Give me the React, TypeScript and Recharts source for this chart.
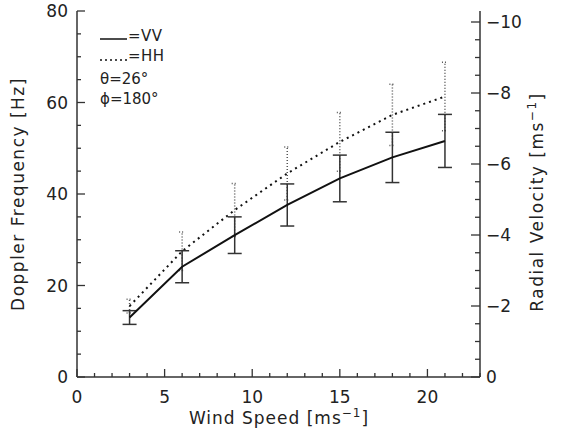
import React from 'react';
import { ComposedChart, Line, XAxis, YAxis, ErrorBar } from 'recharts';

// wind speed [m/s]
const windSpeed = [3, 6, 9, 12, 15, 18, 21];
// VV Doppler frequency [Hz] and its error bar
const vvDoppler = [13.0, 24.1, 31.0, 37.6, 43.4, 48.0, 51.6];
const vvError = [1.5, 3.5, 4.0, 4.6, 5.1, 5.5, 5.8];
// HH Doppler frequency [Hz] and its error bar
const hhDoppler = [15.5, 27.5, 36.5, 44.5, 51.4, 57.3, 61.3];
const hhError = [1.5, 4.2, 5.8, 5.8, 6.4, 6.7, 7.5];

const xTicks = [0, 1, 2, 3, 4, 5, 6, 7, 8, 9, 10, 11, 12, 13, 14, 15, 16, 17, 18, 19, 20, 21, 22, 23];
const xMajor = [0, 5, 10, 15, 20];
const leftTicks = [0, 5, 10, 15, 20, 25, 30, 35, 40, 45, 50, 55, 60, 65, 70, 75, 80];
const leftMajor = [0, 20, 40, 60, 80];
const rightTicks = [0, -0.5, -1, -1.5, -2, -2.5, -3, -3.5, -4, -4.5, -5, -5.5, -6, -6.5, -7, -7.5, -8, -8.5, -9, -9.5, -10];
const rightMajor = [0, -2, -4, -6, -8, -10];

const data = windSpeed.map((w, i) => ({
  w,
  vv: vvDoppler[i],
  vvErr: vvError[i],
  hh: hhDoppler[i],
  hhErr: hhError[i],
}));

const FONT = '"DejaVu Sans", sans-serif';
const AXIS = '#333';
const TEXT = '#222';

// ticks point inward (IDL style); tickSize/tickMargin are 0 so x,y sit on the axis line
const BottomTick = (props: any) => {
  const { x, y, payload } = props;
  const major = xMajor.includes(payload.value);
  return (
    <g>
      <path d={`M${x},${y}V${y - (major ? 8 : 4)}`} stroke={AXIS} strokeWidth={1.3} fill="none" />
      {major && (
        <text x={x} y={y + 26} textAnchor="middle" fontFamily={FONT} fontSize={17} fill={TEXT}>
          {payload.value}
        </text>
      )}
    </g>
  );
};

const TopTick = (props: any) => {
  const { x, y, payload } = props;
  const major = xMajor.includes(payload.value);
  return <path d={`M${x},${y}V${y + (major ? 8 : 4)}`} stroke={AXIS} strokeWidth={1.3} fill="none" />;
};

const LeftTick = (props: any) => {
  const { x, y, payload } = props;
  const major = leftMajor.includes(payload.value);
  return (
    <g>
      <path d={`M${x},${y}H${x + (major ? 8 : 4)}`} stroke={AXIS} strokeWidth={1.3} fill="none" />
      {major && (
        <text x={x - 9} y={y + 6} textAnchor="end" fontFamily={FONT} fontSize={17} fill={TEXT}>
          {payload.value}
        </text>
      )}
    </g>
  );
};

const RightTick = (props: any) => {
  const { x, y, payload } = props;
  const major = rightMajor.includes(payload.value);
  const v = payload.value;
  return (
    <g>
      <path d={`M${x},${y}H${x - (major ? 9 : 5)}`} stroke={AXIS} strokeWidth={1.3} fill="none" />
      {major && (
        <text x={x + 6} y={y + 6} textAnchor="start" fontFamily={FONT} fontSize={17} fill={TEXT}>
          {v === 0 ? '0' : `\u2212${Math.abs(v)}`}
        </text>
      )}
    </g>
  );
};

export default function App() {
  return (
    <div style={{ position: 'absolute', left: 0, top: 0, width: 562, height: 434, background: '#fff' }}>
      <ComposedChart width={562} height={434} data={data} margin={{ top: 11, right: 0, bottom: 0, left: 0 }}>
        <XAxis
          xAxisId="b"
          dataKey="w"
          type="number"
          domain={[0, 23]}
          ticks={xTicks}
          interval={0}
          height={57}
          tickSize={0}
          tickMargin={0}
          tickLine={false}
          tick={BottomTick}
          axisLine={{ stroke: AXIS, strokeWidth: 1.5 }}
        />
        <XAxis
          xAxisId="t"
          orientation="top"
          dataKey="w"
          type="number"
          domain={[0, 23]}
          ticks={xTicks}
          interval={0}
          height={0}
          tickSize={0}
          tickMargin={0}
          tickLine={false}
          tick={TopTick}
          axisLine={{ stroke: AXIS, strokeWidth: 1.5 }}
        />
        <YAxis
          yAxisId="l"
          type="number"
          domain={[0, 80]}
          ticks={leftTicks}
          interval={0}
          width={77}
          tickSize={0}
          tickMargin={0}
          tickLine={false}
          tick={LeftTick}
          axisLine={{ stroke: AXIS, strokeWidth: 1.5 }}
        />
        <YAxis
          yAxisId="r"
          orientation="right"
          type="number"
          domain={[-10.31, 0]}
          reversed
          allowDataOverflow
          ticks={rightTicks}
          interval={0}
          width={82}
          tickSize={0}
          tickMargin={0}
          tickLine={false}
          tick={RightTick}
          axisLine={{ stroke: AXIS, strokeWidth: 1.5 }}
        />
        <Line
          xAxisId="b"
          yAxisId="l"
          dataKey="hh"
          stroke="#111"
          strokeWidth={2}
          strokeDasharray="2 4"
          dot={false}
          isAnimationActive={false}
        >
          <ErrorBar dataKey="hhErr" direction="y" width={3} stroke="#555" strokeWidth={1.5} strokeDasharray="1 2" />
        </Line>
        <Line
          xAxisId="b"
          yAxisId="l"
          dataKey="vv"
          stroke="#111"
          strokeWidth={2}
          dot={false}
          isAnimationActive={false}
        >
          <ErrorBar dataKey="vvErr" direction="y" width={7} stroke="#333" strokeWidth={1.5} />
        </Line>
      </ComposedChart>
      <svg
        width={562}
        height={434}
        style={{ position: 'absolute', left: 0, top: 0, pointerEvents: 'none' }}
        fontFamily={FONT}
        fill={TEXT}
      >
        {/* legend */}
        <line x1={100} x2={127} y1={39} y2={39} stroke="#111" strokeWidth={1.5} />
        <text x={128} y={41} fontSize={15} letterSpacing={0.5}>=VV</text>
        <line x1={100} x2={127} y1={60} y2={60} stroke="#111" strokeWidth={1.5} strokeDasharray="2 3" />
        <text x={128} y={61} fontSize={15} letterSpacing={0.5}>=HH</text>
        <text x={100} y={84} fontSize={15}>θ=26°</text>
        <text x={100} y={104} fontSize={15}>ϕ=180°</text>
        {/* axis titles */}
        <text x={279} y={424} textAnchor="middle" fontSize={17} letterSpacing={1}>
          Wind Speed [ms<tspan dy={-7} fontSize={12}>−1</tspan><tspan dy={7}>]</tspan>
        </text>
        <text transform="translate(24,194) rotate(-90)" textAnchor="middle" fontSize={17} letterSpacing={1.5}>
          Doppler Frequency [Hz]
        </text>
        <text transform="translate(543,202) rotate(-90)" textAnchor="middle" fontSize={17} letterSpacing={1.5}>
          Radial Velocity [ms<tspan dy={-7} fontSize={12}>−1</tspan><tspan dy={7}>]</tspan>
        </text>
      </svg>
    </div>
  );
}
